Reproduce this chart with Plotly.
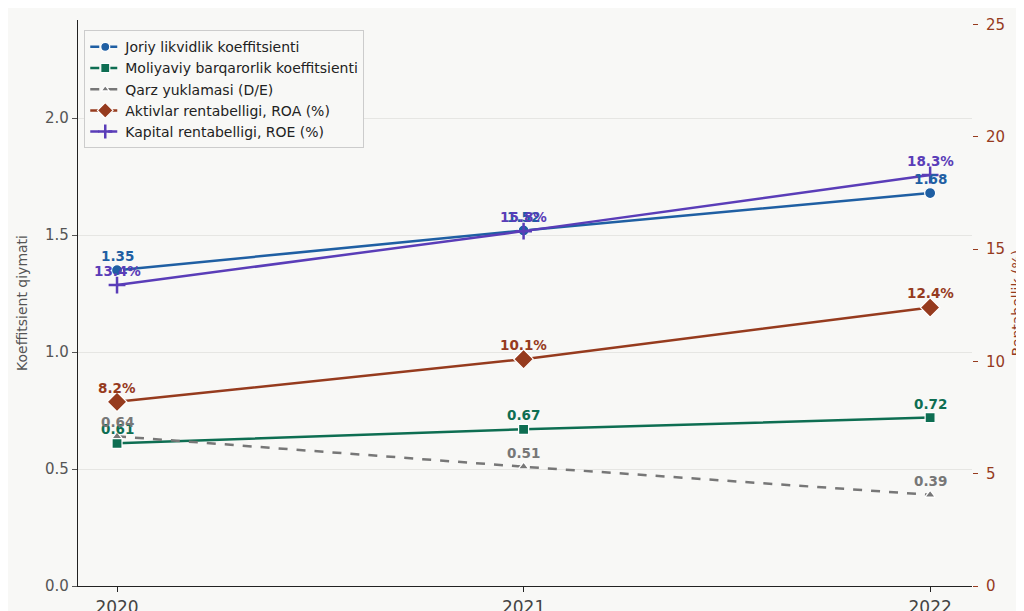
import plotly.graph_objects as go

years = [2020, 2021, 2022]
current_ratio = [1.35, 1.52, 1.68]
stability_ratio = [0.61, 0.67, 0.72]
debt_equity = [0.64, 0.51, 0.39]
roa = [8.2, 10.1, 12.4]
roe = [13.4, 15.8, 18.3]

names = ["Joriy likvidlik koeffitsienti", "Moliyaviy barqarorlik koeffitsienti",
         "Qarz yuklamasi (D/E)", "Aktivlar rentabelligi, ROA (%)", "Kapital rentabelligi, ROE (%)"]

BLUE = "#1f5fa3"
GREEN = "#0e6e52"
GRAY = "#777777"
BROWN = "#963b1e"
PURPLE = "#5a3db8"
BG = "#f8f8f6"
FONT = "DejaVu Sans"

series = [
    (current_ratio, names[0], BLUE, "circle", 11, 9, "solid", "y", "{:.2f}"),
    (stability_ratio, names[1], GREEN, "square", 10, 9, "solid", "y", "{:.2f}"),
    (debt_equity, names[2], GRAY, "triangle-up", 9, 7, "dash", "y", "{:.2f}"),
    (roa, names[3], BROWN, "diamond", 15, 12, "solid", "y2", "{:.1f}%"),
    (roe, names[4], PURPLE, "cross-thin", 12, 10, "solid", "y2", "{:.1f}%"),
]

fig = go.Figure()
annotations = []
for vals, name, color, sym, size, lsize, dash, yax, fmt in series:
    if sym == "cross-thin":
        mline = dict(width=2.5, color=color)
    else:
        mline = dict(width=1.2, color="white")
    fig.add_trace(go.Scatter(x=years, y=vals, mode="lines+markers", name=name,
                             line=dict(color=color, width=2.5, dash=dash),
                             marker=dict(symbol=sym, size=size, color=color, line=mline),
                             yaxis=yax, showlegend=False))
    fig.add_trace(go.Scatter(x=[None], y=[None], mode="lines+markers", name=name,
                             line=dict(color=color, width=2.5, dash="dash"),
                             marker=dict(symbol=sym, size=lsize, color=color, line=mline),
                             yaxis=yax, showlegend=True))
    for xv, yv in zip(years, vals):
        annotations.append(dict(x=xv, y=yv, xref="x", yref=yax, text="<b>" + fmt.format(yv) + "</b>",
                                showarrow=False, yshift=14, font=dict(family=FONT, size=13.5, color=color)))

fig.update_layout(
    width=1024, height=611,
    margin=dict(l=70, r=60, t=12, b=33),
    paper_bgcolor=BG, plot_bgcolor=BG,
    font=dict(family=FONT, color="#555555"),
    annotations=annotations,
    legend=dict(x=0.007, y=0.982, xanchor="left", yanchor="top",
                bgcolor=BG, bordercolor="#cccccc", borderwidth=1,
                font=dict(family=FONT, size=14, color="#222222"),
                tracegroupgap=0, itemwidth=30),
    xaxis=dict(range=[2019.904, 2022.103], tickvals=years, ticktext=[str(y) for y in years],
               showgrid=False, zeroline=False, showline=True, linecolor="#222222", linewidth=1.2,
               ticks="outside", ticklen=5, tickcolor="#222222", automargin=False,
               tickfont=dict(family=FONT, size=17, color="#444444")),
    yaxis=dict(range=[0, 2.42], dtick=0.5, tickformat=".1f", showgrid=True, gridcolor="#e6e6e3",
               zeroline=False, showline=True, linecolor="#222222", linewidth=1.2,
               ticks="outside", ticklen=5, tickcolor="#555555", automargin=False,
               tickfont=dict(family=FONT, size=15, color="#555555"),
               title=dict(text="Koeffitsient qiymati", font=dict(family=FONT, size=14, color="#555555"), standoff=14)),
    yaxis2=dict(range=[0, 25.2], dtick=5, overlaying="y", side="right", showgrid=False, zeroline=False,
                showline=False, ticks="outside", ticklen=5, tickcolor=BROWN, automargin=False,
                ticklabelstandoff=5,
                tickfont=dict(family=FONT, size=15, color=BROWN),
                title=dict(text="Rentabellik (%)", font=dict(family=FONT, size=14, color=BROWN), standoff=8)),
)

fig.write_html("out.html")
